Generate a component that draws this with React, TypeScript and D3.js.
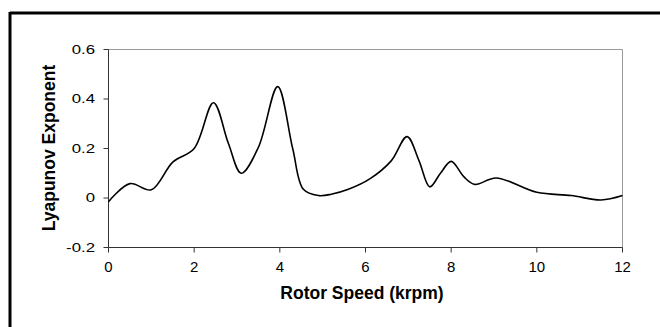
import React from "react";
import * as d3 from "d3";

// Rotor speed (krpm) and measured largest Lyapunov exponent
const speeds = [0, 0.5, 1.0, 1.5, 2.0, 2.45, 2.8, 3.1, 3.5, 3.95, 4.3, 4.55, 4.9, 5.2, 5.6, 6.1, 6.6, 6.97, 7.25, 7.5, 7.75, 8.0, 8.3, 8.55, 9.05, 10.0, 10.8, 11.5, 12.0];
const exponents = [-0.015, 0.058, 0.033, 0.145, 0.2, 0.385, 0.22, 0.1, 0.205, 0.45, 0.2, 0.035, 0.01, 0.015, 0.035, 0.077, 0.15, 0.248, 0.15, 0.045, 0.1, 0.148, 0.085, 0.055, 0.081, 0.023, 0.01, -0.008, 0.01];

const xTicks = [0, 2, 4, 6, 8, 10, 12];
const yTicks = [-0.2, 0, 0.2, 0.4, 0.6];
const yTickLabels = ["-0.2", "0", "0.2", "0.4", "0.6"];

const W = 660;
const H = 327;
const plot = { left: 108.5, right: 622.5, top: 49.5, bottom: 247.5 };

export default function App() {
  const x = d3.scaleLinear().domain([0, 12]).range([plot.left, plot.right]);
  const y = d3.scaleLinear().domain([-0.2, 0.6]).range([plot.bottom, plot.top]);

  const points: [number, number][] = speeds.map((s, i) => [s, exponents[i]]);
  const line = d3
    .line<[number, number]>()
    .x((d) => x(d[0]))
    .y((d) => y(d[1]))
    .curve(d3.curveCatmullRom.alpha(0.5));

  const font = "'Liberation Sans', Arial, sans-serif";

  return (
    <svg
      width={W}
      height={H}
      style={{ position: "absolute", left: 0, top: 0, background: "#fff" }}
    >
      <rect x={0} y={0} width={W} height={H} fill="#fff" />
      {/* chart frame (top and left edges) */}
      <line x1={10} y1={13} x2={W} y2={13} stroke="#000" strokeWidth={3} />
      <line x1={10} y1={12} x2={10} y2={H} stroke="#000" strokeWidth={3} />

      {/* plot area border */}
      <line x1={plot.left} y1={plot.top} x2={plot.right} y2={plot.top} stroke="#9a9a9a" strokeWidth={1} />
      <line x1={plot.right} y1={plot.top} x2={plot.right} y2={plot.bottom} stroke="#9a9a9a" strokeWidth={1} />

      {/* y axis */}
      <line x1={plot.left} y1={plot.top} x2={plot.left} y2={plot.bottom} stroke="#333" strokeWidth={1} />
      {yTicks.map((t, i) => (
        <g key={"y" + i}>
          <line x1={plot.left - 5} y1={y(t)} x2={plot.left} y2={y(t)} stroke="#333" strokeWidth={1} />
          <text
            transform={`translate(${95},${y(t) + 1}) scale(1.4,1)`}
            textAnchor="end"
            dominantBaseline="middle"
            fontFamily={font}
            fontSize={12}
            fill="#000"
          >
            {yTickLabels[i]}
          </text>
        </g>
      ))}

      {/* x axis */}
      <line x1={plot.left} y1={plot.bottom} x2={plot.right} y2={plot.bottom} stroke="#333" strokeWidth={1} />
      {xTicks.map((t) => (
        <g key={"x" + t}>
          <line x1={x(t)} y1={plot.bottom} x2={x(t)} y2={plot.bottom + 5} stroke="#333" strokeWidth={1} />
          <text x={x(t)} y={271.5} textAnchor="middle" fontFamily={font} fontSize={15} fill="#000">
            {t}
          </text>
        </g>
      ))}

      {/* data curve */}
      <path d={line(points) ?? ""} fill="none" stroke="#000" strokeWidth={1.6} strokeLinejoin="round" />

      {/* axis titles */}
      <text x={362} y={299} textAnchor="middle" fontFamily={font} fontWeight="bold" fontSize={17.5} fill="#000">
        Rotor Speed (krpm)
      </text>
      <text
        transform={`translate(55,148) rotate(-90)`}
        textAnchor="middle"
        fontFamily={font}
        fontWeight="bold"
        fontSize={17.5}
        fill="#000"
      >
        Lyapunov Exponent
      </text>
    </svg>
  );
}
